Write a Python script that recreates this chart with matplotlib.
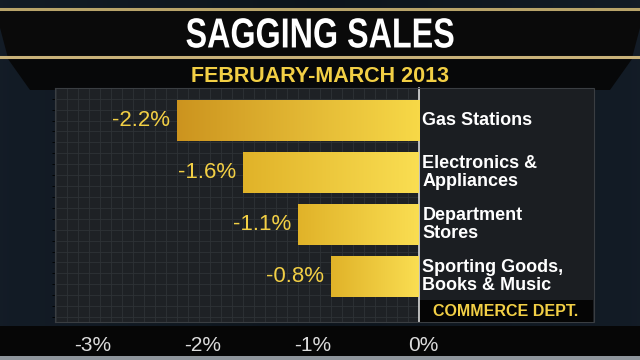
import numpy as np
import matplotlib
matplotlib.use('Agg')
import matplotlib.pyplot as plt
from matplotlib.patches import Polygon, Rectangle, PathPatch
from matplotlib.textpath import TextPath
from matplotlib.font_manager import FontProperties
from matplotlib.transforms import Affine2D, ScaledTranslation
from matplotlib.ticker import MultipleLocator

categories = ['Gas Stations', 'Electronics &\nAppliances', 'Department\nStores',
              'Sporting Goods,\nBooks & Music']
changes = [-2.2, -1.6, -1.1, -0.8]
value_labels = ['-2.2%', '-1.6%', '-1.1%', '-0.8%']
tick_values = [-3, -2, -1, 0]
tick_labels = ['-3%', '-2%', '-1%', '0%']

title = 'SAGGING SALES'
subtitle = 'FEBRUARY-MARCH 2013'
source = 'COMMERCE DEPT.'

W, H = 640, 360
gold = '#f2cf45'
sans = ['Liberation Sans', 'DejaVu Sans']

fig = plt.figure(figsize=(6.4, 3.6), dpi=100)

# background layer in pixel coordinates
bg = fig.add_axes([0, 0, 1, 1])
bg.set_xlim(0, W)
bg.set_ylim(H, 0)
bg.axis('off')
grad = np.linspace(0, 1, 256)
bgimg = np.zeros((64, 256, 3))
bgimg[..., 0] = 0.05 + 0.05 * np.abs(grad - 0.5)
bgimg[..., 1] = 0.08 + 0.06 * np.abs(grad - 0.5)
bgimg[..., 2] = 0.11 + 0.08 * np.abs(grad - 0.5)
bg.imshow(bgimg, extent=[0, W, H, 0], aspect='auto', zorder=0)

# title band with gold edges
bg.add_patch(Polygon([[-5, 9], [W + 5, 9], [W - 8, 58], [8, 58]],
                     closed=True, facecolor='#0a0a0a', edgecolor='none', zorder=1))
bg.plot([-5, W + 5], [9, 9], color='#b8a46a', lw=2.2, zorder=2)
bg.plot([0, W], [57, 57], color='#c9b27a', lw=2.2, zorder=2)
bg.add_patch(Polygon([[8, 59], [W - 8, 59], [W - 30, 90], [30, 90]],
                     closed=True, facecolor='#070809', edgecolor='none', zorder=1))

# bottom strip
bg.add_patch(Rectangle((0, 326), W, 30, facecolor='#060606', edgecolor='none', zorder=1))
bg.add_patch(Rectangle((0, 356), W, 4, facecolor='#8e959c', edgecolor='none', zorder=1))

# right label panel
bg.add_patch(Rectangle((419, 88), 175, 234, facecolor='#1b1e22', edgecolor='#3a3e42',
                       lw=0.8, zorder=1))
bg.add_patch(Rectangle((419, 300), 174, 22, facecolor='#050505', edgecolor='none', zorder=2))

# condensed title: bold text path squeezed horizontally
tp = TextPath((0, 0), title, size=42, prop=FontProperties(family='Liberation Sans', weight='bold'))
ext = tp.get_extents()
sx = 267 / ext.width
tr = (Affine2D().translate(-(ext.x0 + ext.width / 2), -(ext.y0 + ext.height / 2))
      .scale(sx, -1.0) .translate(W / 2, 33))
bg.add_patch(PathPatch(tr.transform_path(tp), facecolor='white', edgecolor='none', zorder=3))

bg.text(W / 2, 76, subtitle, ha='center', va='center', color=gold, fontsize=15.5,
        fontweight='bold', family=sans, zorder=3)
bg.text(506, 312, source, ha='center', va='center', color=gold, fontsize=11.5,
        fontweight='bold', family=sans, zorder=3)

# chart axes: zero line at x=419 px, about 110 px per percent
x0_px, px_per = 419, 110
left_px, right_px, top_px, bot_px = 55, 419, 88, 322
ax = fig.add_axes([left_px / W, 1 - bot_px / H, (right_px - left_px) / W, (bot_px - top_px) / H])
ax.set_facecolor('#1e2125')
ax.set_xlim((left_px - x0_px) / px_per, 0)
ax.set_ylim(3.875, -0.625)

ax.xaxis.set_minor_locator(MultipleLocator(0.1))
ax.yaxis.set_minor_locator(MultipleLocator(0.21))
ax.grid(which='minor', color='#2e3236', lw=0.6)
ax.grid(which='major', axis='x', color='#2e3236', lw=0.6)
ax.set_axisbelow(True)
for s in ax.spines.values():
    s.set_color('#3a3e42')
    s.set_linewidth(0.8)
ax.spines['right'].set_color('#d9d9d9')
ax.spines['right'].set_linewidth(1.2)

y = np.arange(len(categories))
bars = ax.barh(y, changes, height=0.77, color=gold, zorder=2)

# gold gradient fill in each bar
for i, b in enumerate(bars):
    x_left = b.get_x() + b.get_width() if b.get_width() < 0 else b.get_x()
    g = np.linspace(0, 1, 200)
    if i == 0:
        c0, c1 = np.array([0.80, 0.58, 0.12]), np.array([0.97, 0.85, 0.28])
    else:
        c0, c1 = np.array([0.88, 0.70, 0.16]), np.array([0.98, 0.87, 0.32])
    img = (c0[None, :] + (c1 - c0)[None, :] * g[:, None])[None, :, :]
    im = ax.imshow(img, extent=[x_left, 0, b.get_y() + b.get_height(), b.get_y()],
                   aspect='auto', zorder=3)
    im.set_clip_path(b)

for yi, v, lab in zip(y, changes, value_labels):
    ax.text(v - 0.06, yi, lab, ha='right', va='center', color=gold, fontsize=16,
            family=sans, zorder=4)

for yi, cat in zip(y, categories):
    ax.text(0.03, yi, cat, ha='left', va='center', color='white', fontsize=13,
            fontweight='bold', family=sans, linespacing=1.05, zorder=4,
            transform=ax.transData, clip_on=False)

ax.set_yticks([])
ax.set_xticks(tick_values)
ax.set_xticklabels(tick_labels, color='#dcdcdc', fontsize=15, family=sans)
ax.tick_params(axis='x', which='both', length=0, pad=10)
shift = ScaledTranslation(4 / 100, 0, fig.dpi_scale_trans)
for lab in ax.get_xticklabels():
    lab.set_transform(lab.get_transform() + shift)

fig.savefig('out.png', dpi=100, facecolor='black')
